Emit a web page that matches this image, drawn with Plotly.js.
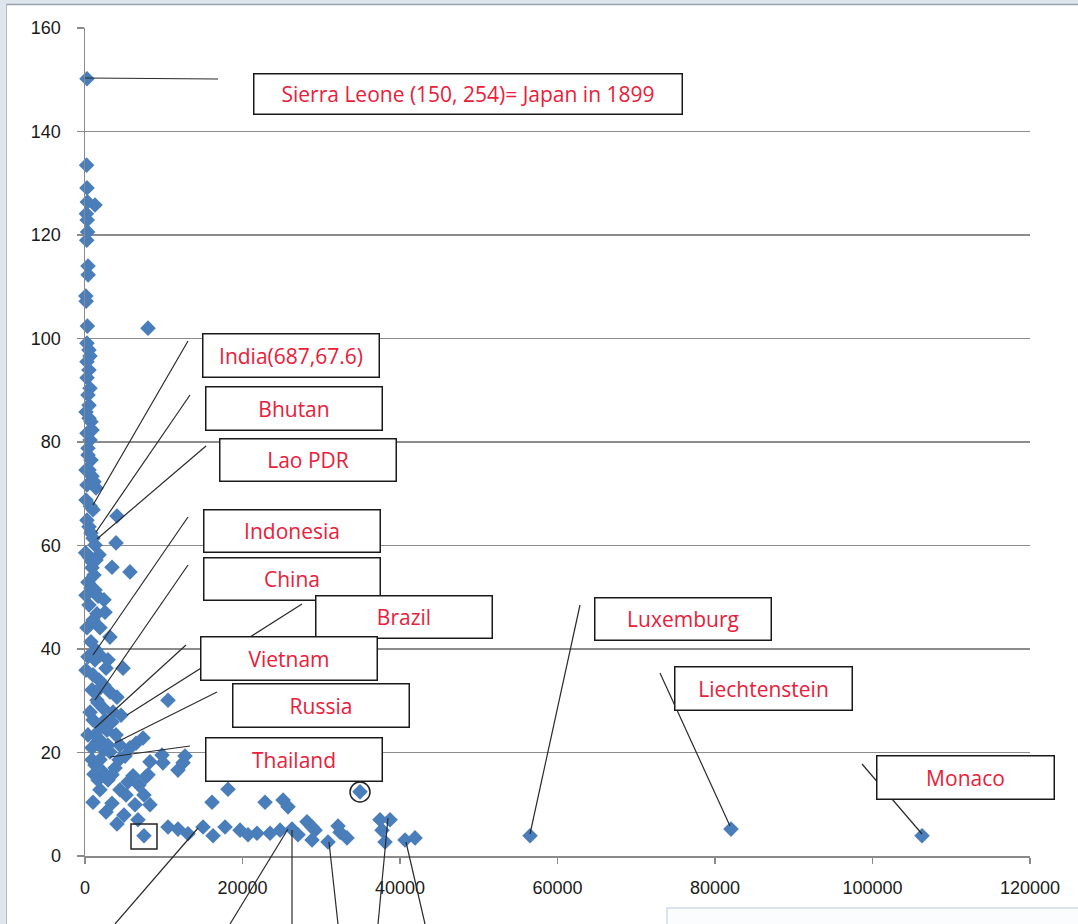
<!DOCTYPE html>
<html>
<head>
<meta charset="utf-8">
<script src="https://cdn.plot.ly/plotly-3.0.1.min.js"></script>
<style>
  html, body { margin: 0; padding: 0; background: #ffffff; }
  #chart { width: 1078px; height: 924px; }
</style>
</head>
<body>
<div id="chart"></div>
<script>
// GDP per capita (US$) of each country
const gdpPerCapita = [
  254, 200, 250, 300, 1270, 180, 280, 330, 220, 380,
  400, 100, 150, 300, 8000, 250, 500, 630, 250, 500,
  260, 630, 380, 130, 510, 760, 250, 640, 380, 760,
  510, 890, 1140, 1400, 130, 687, 1020, 4060, 250, 510,
  760, 1020, 1270, 3940, 80, 510, 890, 1400, 1780, 5710,
  3430, 380, 760, 1270, 1650, 2410, 510, 2540, 1520, 250,
  3170, 760, 1400, 1900, 380, 2920, 4830, 1020, 1780, 2410,
  890, 3170, 4060, 10540, 1650, 2290, 3560, 4570, 1020, 2030,
  2790, 380, 1520, 7370, 6480, 890, 3170, 5080, 1900, 9780,
  12700, 8250, 11810, 3810, 2290, 1140, 6100, 7750, 5460, 16130,
  18160, 4440, 7490, 1020, 3430, 6350, 8250, 2670, 4950, 6730,
  4060, 7490, 22860, 25150, 25780, 10540, 11810, 13080, 14990, 16260,
  17780, 19690, 20700, 21840, 23500, 24770, 26290, 27050, 28190, 28830,
  29210, 28830, 30860, 32130, 32390, 33270, 34920, 37460, 38730, 37720,
  38100, 40640, 41910, 56510, 82030, 106290,
  1400, 2540, 1900, 3940, 2920, 4320, 1270, 2920, 1900, 5710,
  3430, 5210, 6860, 9900, 12450, 8000,
  130, 250, 380, 890, 510, 890, 1140, 130, 1020, 1900,
  130, 1270, 2670, 1520, 640, 3430, 1270, 2410, 890, 4440, 1650
];
// Infant mortality (per 1000 live births) of each country
const infantMortality = [
  150.2, 133.5, 129.1, 126.4, 125.8, 124.1, 122.9, 120.6, 119.0, 114.0,
  112.3, 108.2, 107.2, 102.4, 102.0, 99.1, 97.8, 96.6, 95.5, 93.9,
  92.4, 90.4, 89.1, 85.8, 84.6, 83.9, 81.7, 80.4, 77.5, 76.5,
  74.6, 73.4, 72.3, 71.1, 68.8, 67.6, 66.9, 65.7, 64.9, 63.6,
  62.4, 61.4, 60.1, 60.5, 58.6, 57.8, 56.8, 57.2, 58.2, 54.9,
  55.8, 52.9, 51.8, 51.4, 50.2, 49.5, 48.5, 47.1, 46.8, 44.1,
  42.3, 41.4, 39.8, 38.8, 38.5, 37.9, 36.3, 35.0, 34.0, 33.0,
  32.1, 31.7, 30.7, 30.1, 29.6, 28.6, 27.8, 27.2, 26.3, 24.9,
  24.3, 23.4, 22.0, 22.8, 21.8, 20.9, 20.1, 19.3, 18.6, 19.5,
  19.3, 18.2, 16.6, 17.0, 16.2, 15.8, 15.5, 15.3, 14.3, 10.4,
  12.9, 12.8, 11.8, 10.4, 10.2, 9.9, 9.9, 8.5, 7.9, 7.0,
  6.2, 3.9, 10.4, 10.8, 9.5, 5.6, 5.2, 4.3, 5.6, 3.9,
  5.6, 5.0, 4.1, 4.4, 4.4, 5.0, 5.2, 4.1, 6.6, 5.6,
  5.0, 3.1, 2.7, 5.8, 4.6, 3.5, 12.4, 7.0, 7.0, 5.0,
  2.7, 3.1, 3.5, 3.9, 5.2, 3.9,
  31.7, 26.3, 22.4, 23.4, 21.4, 18.6, 17.6, 14.7, 12.8, 20.9,
  15.7, 11.8, 13.7, 18.0, 18.0, 15.7,
  74.6, 71.7, 78.8, 82.3, 87.1, 55.7, 54.3, 50.4, 45.6, 44.1,
  35.9, 37.9, 36.3, 30.1, 27.8, 25.9, 23.4, 20.5, 18.6, 21.4, 14.7
];
// Callout labels
const calloutLabels = [
  "Sierra Leone (150, 254)= Japan in 1899",
  "India(687,67.6)", "Bhutan", "Lao PDR", "Indonesia", "China",
  "Brazil", "Vietnam", "Russia", "Thailand",
  "Luxemburg", "Liechtenstein", "Monaco"
];
const xTickValues = [0, 20000, 40000, 60000, 80000, 100000, 120000];
const yTickValues = [0, 20, 40, 60, 80, 100, 120, 140, 160];

// ---- layout geometry (pixels) ----
const W = 1078, H = 924;
const PL = 85, PR = 1030, PT = 28, PB = 856;
const fx = px => (px - PL) / (PR - PL);
const fy = py => (PB - py) / (PB - PT);

// callout boxes [x0, x1, y0, y1] in pixels, one per label
const boxes = [
  [253, 683, 73, 115],
  [202, 380, 333, 378], [205, 383, 386, 431], [219, 397, 438, 482],
  [203, 381, 509, 553], [203, 381, 557, 601], [315, 493, 595, 639],
  [200, 378, 636, 681], [232, 410, 683, 728], [205, 383, 737, 782],
  [594, 772, 597, 641], [674, 853, 666, 711], [876, 1055, 755, 800]
];
// leader lines in pixels
const leaders = [
  [85, 78, 218, 79],
  [188, 341, 93, 505], [190, 395, 96, 532], [206, 446, 97, 539],
  [188, 517, 93, 655], [188, 565, 95, 700], [302, 604, 127, 715],
  [186, 645, 95, 728], [217, 692, 115, 743], [190, 746, 110, 757],
  [580, 605, 530, 834], [660, 673, 730, 826], [862, 764, 922, 834],
  [115, 924, 198, 828], [230, 924, 288, 829], [292, 924, 292, 830],
  [338, 924, 329, 842], [378, 924, 388, 818], [425, 924, 406, 842]
];

const shapes = [];
// window frame strips
shapes.push({type: 'rect', xref: 'paper', yref: 'paper', x0: fx(0), x1: fx(W), y0: fy(0), y1: fy(4), fillcolor: '#dfe5ec', line: {width: 0}, layer: 'below'});
shapes.push({type: 'rect', xref: 'paper', yref: 'paper', x0: fx(0), x1: fx(6), y0: fy(0), y1: fy(H), fillcolor: '#dfe5ec', line: {width: 0}, layer: 'below'});
shapes.push({type: 'line', xref: 'paper', yref: 'paper', x0: fx(6), x1: fx(W), y0: fy(4.5), y1: fy(4.5), line: {color: '#9aa3ad', width: 1.5}});
shapes.push({type: 'line', xref: 'paper', yref: 'paper', x0: fx(6.5), x1: fx(6.5), y0: fy(4), y1: fy(H), line: {color: '#b5bcc4', width: 1}});
// bottom-right panel edge
shapes.push({type: 'rect', xref: 'paper', yref: 'paper', x0: fx(667), x1: fx(W + 5), y0: fy(908), y1: fy(H + 5), fillcolor: '#fafcfe', line: {color: '#cfdbe7', width: 1.5}});

leaders.forEach(l => shapes.push({
  type: 'line', xref: 'paper', yref: 'paper',
  x0: fx(l[0]), y0: fy(l[1]), x1: fx(l[2]), y1: fy(l[3]),
  line: {color: '#2a2a2a', width: 1.2}
}));
// highlight circle and square
shapes.push({type: 'circle', xref: 'paper', yref: 'paper', x0: fx(350), x1: fx(370), y0: fy(782), y1: fy(802), line: {color: '#222', width: 1.5}});
shapes.push({type: 'rect', xref: 'paper', yref: 'paper', x0: fx(131), x1: fx(157), y0: fy(824), y1: fy(849), line: {color: '#222', width: 1.5}});

const BW = 1.5;
const annotations = calloutLabels.map((t, i) => {
  const b = boxes[i];
  return {
    xref: 'paper', yref: 'paper',
    x: fx((b[0] + b[1]) / 2), y: fy((b[2] + b[3]) / 2),
    xanchor: 'center', yanchor: 'middle',
    text: t, showarrow: false,
    width: b[1] - b[0] - 2 * BW, height: b[3] - b[2] - 2 * BW,
    borderpad: 0, borderwidth: BW, bordercolor: '#1a1a1a', bgcolor: '#ffffff',
    align: 'center', valign: 'middle',
    font: {family: '"Open Sans", "Noto Sans", sans-serif', size: 21, color: '#e8203a'}
  };
});

const trace = {
  type: 'scatter', mode: 'markers',
  x: gdpPerCapita, y: infantMortality,
  marker: {symbol: 'diamond', size: 12, color: '#4a7ebb', line: {width: 0}},
  cliponaxis: false,
  hoverinfo: 'x+y'
};

const layout = {
  width: W, height: H,
  margin: {l: PL, r: W - PR, t: PT, b: H - PB, pad: 0},
  paper_bgcolor: '#ffffff', plot_bgcolor: '#ffffff',
  showlegend: false,
  font: {family: '"Liberation Sans", Arial, sans-serif', size: 18, color: '#1a1a1a'},
  xaxis: {
    range: [0, 120000], tickvals: xTickValues, ticktext: xTickValues.map(String),
    showgrid: false, zeroline: false,
    showline: true, linecolor: '#8a8a8a', linewidth: 1.5,
    ticks: 'outside', ticklen: 6, tickcolor: '#8a8a8a', tickwidth: 1.5,
    ticklabelstandoff: 9,
    tickfont: {size: 18, color: '#1a1a1a'}
  },
  yaxis: {
    range: [0, 160], tickvals: yTickValues, ticktext: yTickValues.map(String),
    showgrid: true, gridcolor: '#8c8c8c', gridwidth: 1.2,
    zeroline: false,
    showline: true, linecolor: '#8a8a8a', linewidth: 1.5,
    ticks: 'outside', ticklen: 7, tickcolor: '#8a8a8a', tickwidth: 1.5,
    ticklabelstandoff: 12,
    tickfont: {size: 18, color: '#1a1a1a'}
  },
  shapes: shapes,
  annotations: annotations
};

Plotly.newPlot('chart', [trace], layout, {displayModeBar: false, staticPlot: true});
</script>
</body>
</html>
